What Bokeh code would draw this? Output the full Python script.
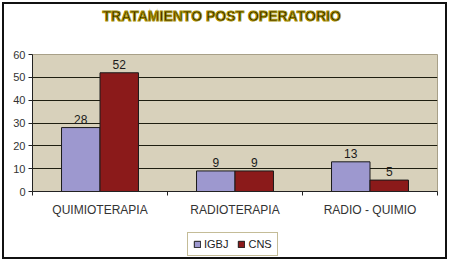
from bokeh.plotting import figure
from bokeh.layouts import column
from bokeh.models import (Range1d, LinearAxis, FixedTicker, ColumnDataSource, LabelSet, Label,
                          Legend, LegendItem)
from bokeh.core.properties import value
from bokeh.transform import dodge
from bokeh.embed import file_html
from bokeh.resources import INLINE

categories = ["QUIMIOTERAPIA", "RADIOTERAPIA", "RADIO - QUIMIO"]
igbj = [28, 9, 13]
cns = [52, 9, 5]
y_ticks = [0, 10, 20, 30, 40, 50, 60]
title_text = "TRATAMIENTO POST OPERATORIO"
series_names = ["IGBJ", "CNS"]
series_cols = ["igbj", "cns"]
series_colors = ["#9d98cf", "#8b1a1a"]
offsets = [-0.1425, 0.1425]

pos = [i + 0.5 for i in range(len(categories))]
src = ColumnDataSource(dict(pos=pos, igbj=igbj, cns=cns,
                            igbj_lbl=[str(v) for v in igbj], cns_lbl=[str(v) for v in cns]))

FONT = "Liberation Sans"
W = 441

# ---- title strip ----
t = figure(width=W, height=22, output_backend="svg", toolbar_location=None,
           x_range=Range1d(0, 1), y_range=Range1d(0, 1), x_axis_location=None, y_axis_location=None,
           min_border=0)
t.grid.visible = False
t.outline_line_color = None
t.background_fill_color = "white"
t.border_fill_color = "white"
t.add_layout(Label(x=0.467, y=0.5, text=title_text, text_align="center", text_baseline="middle",
                   text_font=FONT, text_font_size="14px", text_font_style="bold",
                   text_color="#201a00", text_outline_color="#a89000"))

# ---- main chart ----
p = figure(width=W, height=193, output_backend="svg", toolbar_location=None,
           x_range=Range1d(0, len(categories)), y_range=Range1d(0, 60),
           x_axis_location=None, y_axis_location=None,
           min_border_left=28, min_border_right=8, min_border_top=28, min_border_bottom=26)
p.background_fill_color = "#d8d1bb"
p.border_fill_color = "white"
p.outline_line_color = "#a8a088"
p.xgrid.grid_line_color = None
p.ygrid.grid_line_color = "#1e1e10"
p.ygrid.ticker = FixedTicker(ticks=y_ticks)

yax = LinearAxis(ticker=FixedTicker(ticks=y_ticks))
yax.major_tick_out = 4
yax.major_tick_in = 0
yax.minor_tick_line_color = None
yax.axis_line_color = "#222222"
yax.major_tick_line_color = "#222222"
yax.major_label_text_font = FONT
yax.major_label_text_font_size = "11px"
yax.major_label_text_color = "#333333"
yax.major_label_standoff = 3
p.add_layout(yax, "left")

sep = LinearAxis(ticker=FixedTicker(ticks=list(range(len(categories) + 1))))
sep.major_tick_out = 4
sep.major_tick_in = 0
sep.minor_tick_line_color = None
sep.axis_line_color = "#222222"
sep.major_tick_line_color = "#222222"
sep.major_label_text_font_size = "0px"
sep.major_label_standoff = 0
p.add_layout(sep, "below")

xax = LinearAxis(ticker=FixedTicker(ticks=pos),
                 major_label_overrides={v: c for v, c in zip(pos, categories)})
xax.axis_line_color = None
xax.major_tick_line_color = None
xax.minor_tick_line_color = None
xax.major_tick_out = 0
xax.major_label_standoff = 7
xax.major_label_text_font = FONT
xax.major_label_text_font_size = "12px"
xax.major_label_text_color = "#333333"
p.add_layout(xax, "below")

for col, color, off in zip(series_cols, series_colors, offsets):
    p.vbar(x=dodge("pos", off), top=col, width=0.285, source=src,
           fill_color=color, line_color="#1a1a1a", line_width=1)
    p.add_layout(LabelSet(x=dodge("pos", off), y=col, text=col + "_lbl", source=src,
                          text_align="center", text_baseline="bottom", y_offset=4,
                          text_font=value(FONT), text_font_size=value("12px"),
                          text_color="#1a1a1a"))

# ---- legend strip (same series, drawn out of view so only the legend shows) ----
leg = figure(width=W, height=38, output_backend="svg", toolbar_location=None,
             x_range=Range1d(0, len(categories)), y_range=Range1d(1000, 1001),
             x_axis_location=None, y_axis_location=None, min_border=0)
leg.grid.visible = False
leg.outline_line_color = None
leg.background_fill_color = "white"
leg.border_fill_color = "white"
items = []
for name, col, color, off in zip(series_names, series_cols, series_colors, offsets):
    rr = leg.vbar(x=dodge("pos", off), top=col, width=0.285, source=src, fill_color=color,
                  line_color="#1a1a1a", line_width=1)
    items.append(LegendItem(label=name, renderers=[rr]))
legend = Legend(items=items, orientation="horizontal", location=(155, 1))
legend.border_line_color = "#8a7a30"
legend.border_line_width = 1
legend.background_fill_color = "white"
legend.label_text_font = FONT
legend.label_text_font_size = "11px"
legend.label_text_color = "#222222"
legend.glyph_width = 8
legend.glyph_height = 8
legend.label_standoff = 3
legend.spacing = 9
legend.padding = 5
legend.margin = 0
legend.label_height = 12
leg.add_layout(legend, "center")

layout = column(t, p, leg, spacing=0, styles={"border": "2px solid #111111", "margin": "2px"})

open("out.html", "w").write(file_html(layout, INLINE))
